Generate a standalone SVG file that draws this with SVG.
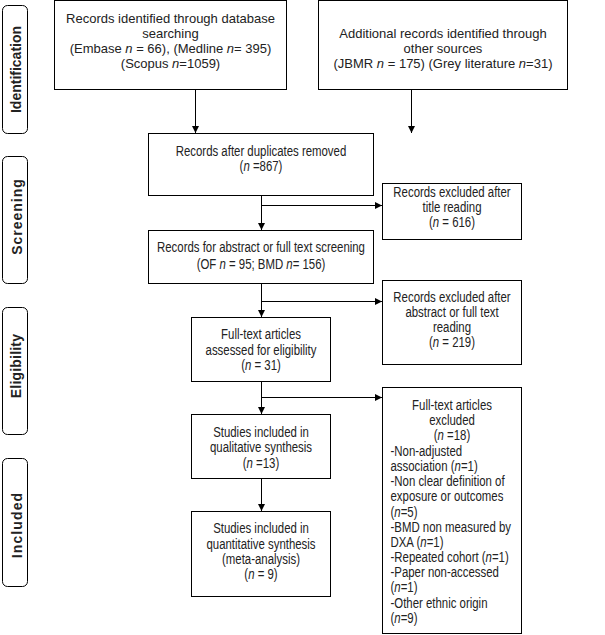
<svg xmlns="http://www.w3.org/2000/svg" width="605" height="635" viewBox="0 0 605 635">
<style>
.box{fill:#fff;stroke:#000;stroke-width:1}
.ph{fill:#fff;stroke:#000;stroke-width:1}
text{font-family:"Liberation Sans",Arial,sans-serif;font-size:14px;fill:#222}
.w{font-size:13px}
.c{text-anchor:middle}
.p{font-weight:bold;font-size:14px;text-anchor:middle;fill:#222}
.ln{stroke:#000;stroke-width:1;fill:none}
</style>
<defs>
<marker id="ah" viewBox="0 0 10 10" refX="10" refY="5" markerWidth="7" markerHeight="7" markerUnits="userSpaceOnUse" orient="auto">
<path d="M0,0 L10,5 L0,10 z" fill="#000"/>
</marker>
</defs>
<rect width="605" height="635" fill="#fff"/>
<g id="phase-identification"><rect class="ph" x="2.5" y="5.5" width="25" height="128" rx="5"/><text class="p" transform="translate(21,69.5) rotate(-90)">Identification</text></g>
<g id="phase-screening"><rect class="ph" x="2.5" y="156.5" width="25" height="127" rx="5"/><text class="p" letter-spacing="1" transform="translate(21.5,216.5) rotate(-90)">Screening</text></g>
<g id="phase-eligibility"><rect class="ph" x="2.5" y="307.5" width="25" height="127" rx="5"/><text class="p" letter-spacing="0.2" transform="translate(21,366) rotate(-90)">Eligibility</text></g>
<g id="phase-included"><rect class="ph" x="2.5" y="458.5" width="25" height="128" rx="5"/><text class="p" letter-spacing="1.1" transform="translate(21.5,525) rotate(-90)">Included</text></g>

<g id="connectors">
<line class="ln" x1="195.5" y1="90" x2="195.5" y2="133" marker-end="url(#ah)"/>
<line class="ln" x1="411.5" y1="90" x2="411.5" y2="133" marker-end="url(#ah)"/>
<line class="ln" x1="261.5" y1="196" x2="261.5" y2="230" marker-end="url(#ah)"/>
<line class="ln" x1="261.5" y1="205.5" x2="382" y2="205.5" marker-end="url(#ah)"/>
<line class="ln" x1="261.5" y1="284" x2="261.5" y2="317" marker-end="url(#ah)"/>
<line class="ln" x1="261.5" y1="301.5" x2="382" y2="301.5" marker-end="url(#ah)"/>
<line class="ln" x1="261.5" y1="382" x2="261.5" y2="414" marker-end="url(#ah)"/>
<line class="ln" x1="261.5" y1="397.5" x2="382" y2="397.5" marker-end="url(#ah)"/>
<line class="ln" x1="261.5" y1="479" x2="261.5" y2="511" marker-end="url(#ah)"/>
</g>

<g id="n1"><rect class="box" x="54.5" y="0.5" width="232" height="89"/>
<text class="c w" x="170.5" y="22.5">Records identified through database</text>
<text class="c w" x="170.5" y="37.5">searching</text>
<text class="c w" x="170.5" y="52.5">(Embase <tspan font-style="italic">n</tspan> = 66), (Medline <tspan font-style="italic">n</tspan>= 395)</text>
<text class="c w" x="170.5" y="67.5">(Scopus <tspan font-style="italic">n</tspan>=1059)</text></g>

<g id="n2"><rect class="box" x="318.5" y="0.5" width="249" height="89"/>
<text class="c w" x="443" y="37.5">Additional records identified through</text>
<text class="c w" x="443" y="52.5">other sources</text>
<text class="c w" x="443" y="67.5">(JBMR <tspan font-style="italic">n</tspan> = 175) (Grey literature <tspan font-style="italic">n</tspan>=31)</text></g>

<g id="n3"><rect class="box" x="148.5" y="133.5" width="225" height="62"/>
<text class="c" transform="translate(261,156) scale(.815,1)">Records after duplicates removed</text>
<text class="c" transform="translate(261,171) scale(.815,1)">(<tspan font-style="italic">n</tspan> =867)</text></g>

<g id="x1"><rect class="box" x="382.5" y="183.5" width="139" height="56"/>
<text class="c" transform="translate(452,196.5) scale(.815,1)">Records excluded after</text>
<text class="c" transform="translate(452,211.5) scale(.815,1)">title reading</text>
<text class="c" transform="translate(452,226.5) scale(.815,1)">(<tspan font-style="italic">n</tspan> = 616)</text></g>

<g id="n4"><rect class="box" x="148.5" y="230.5" width="225" height="53"/>
<text class="c" transform="translate(261,252) scale(.815,1)">Records for abstract or full text screening</text>
<text class="c" transform="translate(261,269) scale(.815,1)">(OF <tspan font-style="italic">n</tspan> = 95; BMD <tspan font-style="italic">n</tspan>= 156)</text></g>

<g id="x2"><rect class="box" x="382.5" y="280.5" width="139" height="84"/>
<text class="c" transform="translate(452,302) scale(.815,1)">Records excluded after</text>
<text class="c" transform="translate(452,317) scale(.815,1)">abstract or full text</text>
<text class="c" transform="translate(452,332) scale(.815,1)">reading</text>
<text class="c" transform="translate(452,347) scale(.815,1)">(<tspan font-style="italic">n</tspan> = 219)</text></g>

<g id="n5"><rect class="box" x="191.5" y="317.5" width="139" height="64"/>
<text class="c" transform="translate(261,339) scale(.815,1)">Full-text articles</text>
<text class="c" transform="translate(261,354.5) scale(.815,1)">assessed for eligibility</text>
<text class="c" transform="translate(261,370) scale(.815,1)">(<tspan font-style="italic">n</tspan> = 31)</text></g>

<g id="x3"><rect class="box" x="382.5" y="387.5" width="139" height="246"/>
<text class="c" transform="translate(452,410) scale(.815,1)">Full-text articles</text>
<text class="c" transform="translate(452,425) scale(.815,1)">excluded</text>
<text class="c" transform="translate(452,440) scale(.815,1)">(<tspan font-style="italic">n</tspan> =18)</text>
<text transform="translate(390.5,455.5) scale(.815,1)">-Non-adjusted</text>
<text transform="translate(390.5,470.5) scale(.815,1)">association (<tspan font-style="italic">n</tspan>=1)</text>
<text transform="translate(390.5,486) scale(.815,1)">-Non clear definition of</text>
<text transform="translate(390.5,501) scale(.815,1)">exposure or outcomes</text>
<text transform="translate(390.5,516.5) scale(.815,1)">(<tspan font-style="italic">n</tspan>=5)</text>
<text transform="translate(390.5,531.5) scale(.815,1)">-BMD non measured by</text>
<text transform="translate(390.5,546.5) scale(.815,1)">DXA (<tspan font-style="italic">n</tspan>=1)</text>
<text transform="translate(390.5,562) scale(.815,1)">-Repeated cohort (<tspan font-style="italic">n</tspan>=1)</text>
<text transform="translate(390.5,577) scale(.815,1)">-Paper non-accessed</text>
<text transform="translate(390.5,592) scale(.815,1)">(<tspan font-style="italic">n</tspan>=1)</text>
<text transform="translate(390.5,607.5) scale(.815,1)">-Other ethnic origin</text>
<text transform="translate(390.5,622.5) scale(.815,1)">(<tspan font-style="italic">n</tspan>=9)</text></g>

<g id="n6"><rect class="box" x="191.5" y="414.5" width="139" height="64"/>
<text class="c" transform="translate(261,437) scale(.815,1)">Studies included in</text>
<text class="c" transform="translate(261,452) scale(.815,1)">qualitative synthesis</text>
<text class="c" transform="translate(261,467.5) scale(.815,1)">(<tspan font-style="italic">n</tspan> =13)</text></g>

<g id="n7"><rect class="box" x="191.5" y="511.5" width="139" height="85"/>
<text class="c" transform="translate(261,533) scale(.815,1)">Studies included in</text>
<text class="c" transform="translate(261,548.5) scale(.815,1)">quantitative synthesis</text>
<text class="c" transform="translate(261,563.5) scale(.815,1)">(meta-analysis)</text>
<text class="c" transform="translate(261,579) scale(.815,1)">(<tspan font-style="italic">n</tspan> = 9)</text></g>
</svg>
